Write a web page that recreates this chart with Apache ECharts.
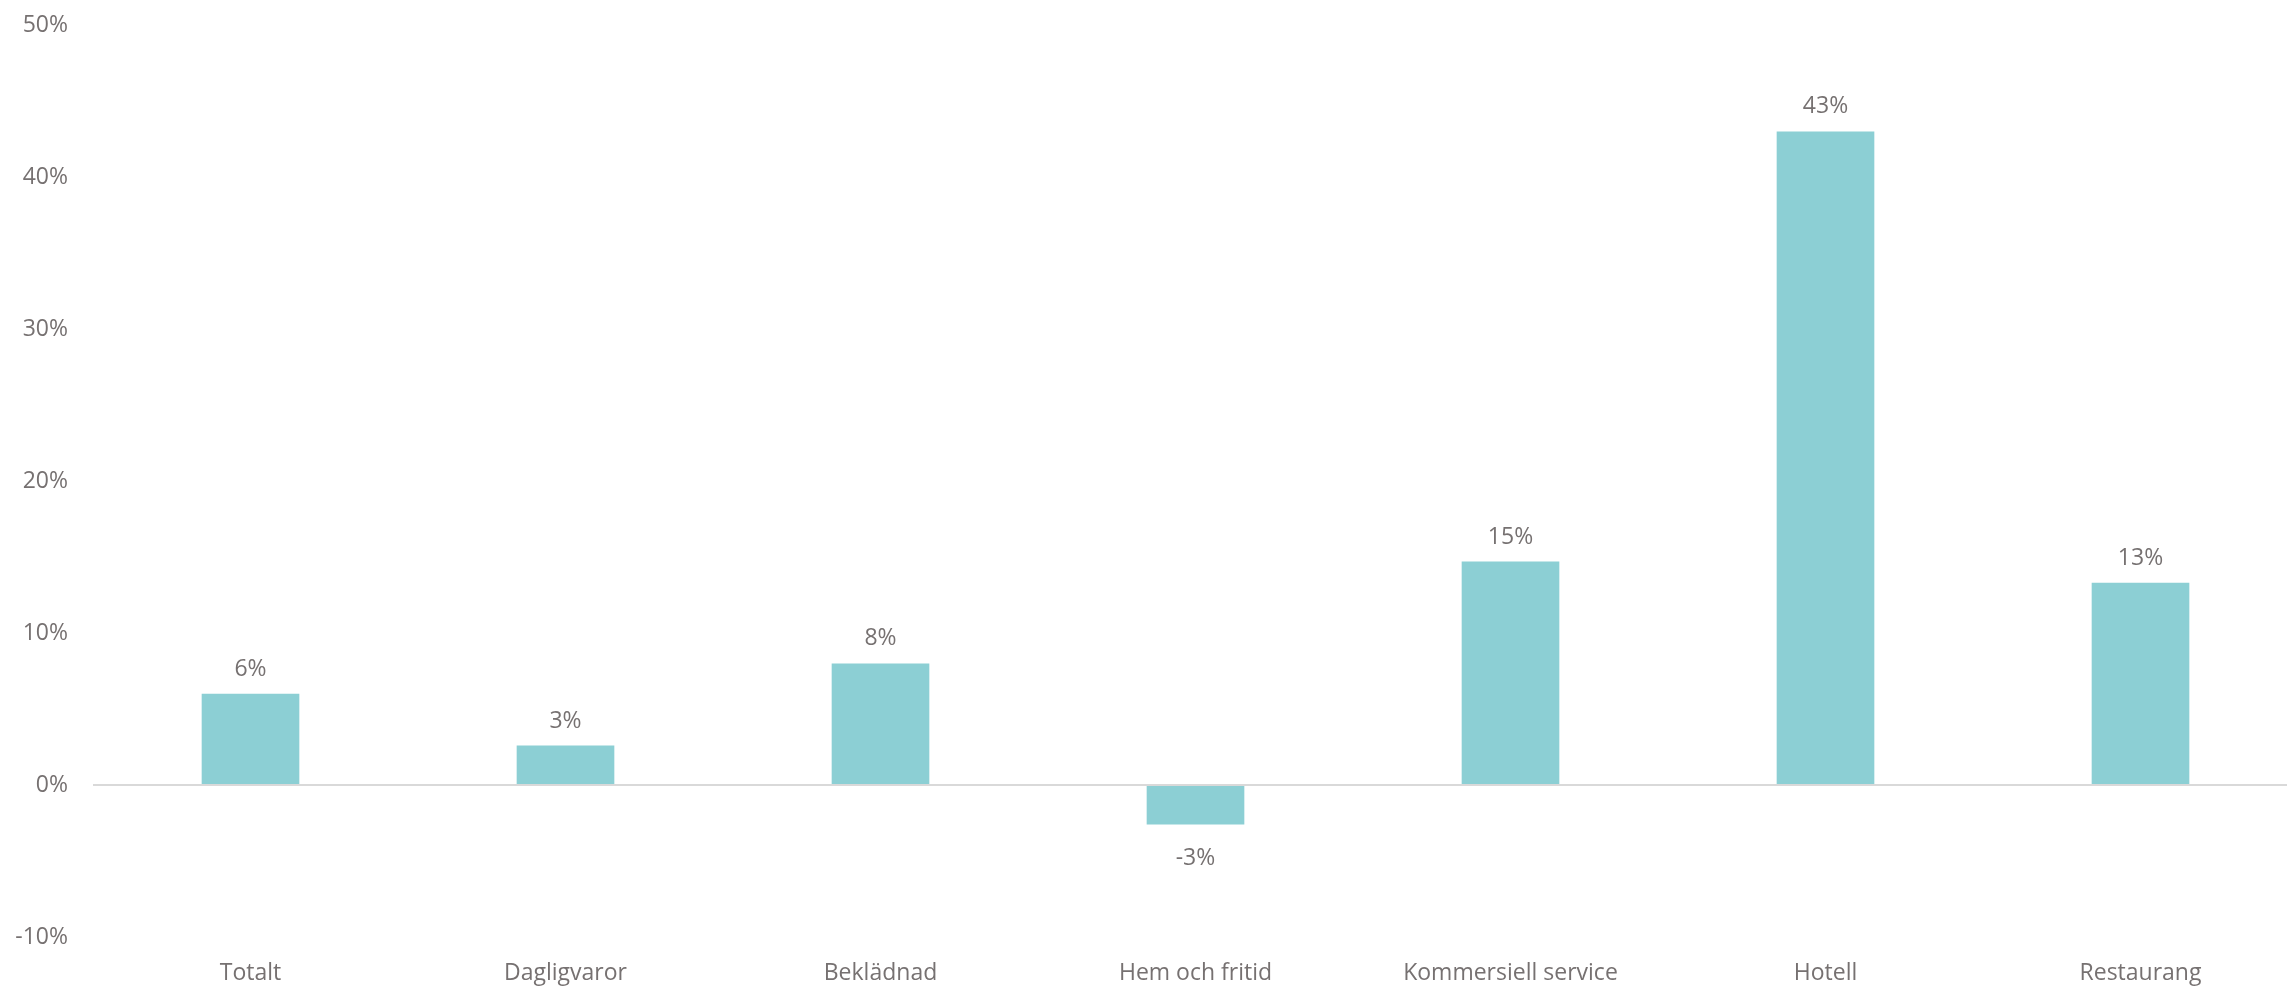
<!DOCTYPE html>
<html>
<head>
<meta charset="utf-8">
<script src="https://cdn.jsdelivr.net/npm/echarts@6/dist/echarts.min.js"></script>
<style>
html,body{margin:0;padding:0;background:#fff;overflow:hidden;}
#chart{width:2300px;height:987px;}
</style>
</head>
<body>
<div id="chart"></div>
<script>
const categories = ['Totalt', 'Dagligvaror', 'Beklädnad', 'Hem och fritid', 'Kommersiell service', 'Hotell', 'Restaurang'];
const values = [6.0, 2.6, 8.0, -2.6, 14.7, 43.0, 13.3];
const yTicks = { min: -10, max: 50, interval: 10 };

const textColor = '#767171';
const font = 'Open Sans';

const seriesData = values.map(v => v < 0 ? { value: v, label: { distance: 22 } } : v);

const chart = echarts.init(document.getElementById('chart'));
chart.setOption({
  animation: false,
  backgroundColor: '#ffffff',
  grid: { left: 93, top: 25, right: 2, bottom: 50, containLabel: false },
  xAxis: {
    type: 'category',
    data: categories,
    axisLine: { show: false },
    axisTick: { show: false },
    axisLabel: { color: textColor, fontFamily: font, fontSize: 23, margin: 25 }
  },
  yAxis: {
    type: 'value',
    min: yTicks.min, max: yTicks.max, interval: yTicks.interval,
    axisLine: { show: false },
    axisTick: { show: false },
    splitLine: { show: false },
    axisLabel: { color: textColor, fontFamily: font, fontSize: 23, margin: 25, formatter: v => v + '%' }
  },
  series: [{
    type: 'bar',
    data: seriesData,
    barWidth: '31%',
    itemStyle: { color: '#8CCFD4' },
    label: {
      show: true,
      position: 'outside',
      distance: 13,
      color: textColor,
      fontFamily: font,
      fontSize: 23,
      formatter: p => Math.round(p.value) + '%'
    },
    markLine: {
      silent: true,
      symbol: 'none',
      label: { show: false },
      lineStyle: { color: '#D9D9D9', width: 2, type: 'solid' },
      data: [{ yAxis: 0 }]
    }
  }]
});
</script>
</body>
</html>
